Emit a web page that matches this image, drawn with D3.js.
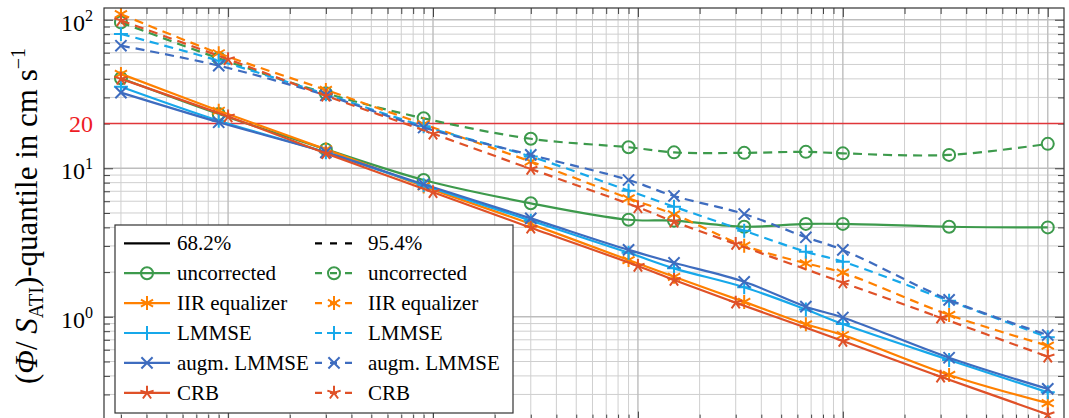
<!DOCTYPE html>
<html>
<head>
<meta charset="utf-8">
<script src="https://cdn.jsdelivr.net/npm/d3@7"></script>
<style>
  html, body { margin: 0; padding: 0; background: #fff; overflow: hidden; }
  svg { display: block; }
</style>
</head>
<body>
<svg id="chart" width="1069" height="418"></svg>
<script>
// Abscissa positions of the evaluated points (CRB is evaluated on a slightly different set)
const xMain = [3, 9, 30, 90, 300, 900, 1500, 3300, 6600, 10000, 33000, 100000];
const xCrb  = [3, 10, 30, 100, 300, 1000, 1500, 3000, 10000, 30000, 100000];

// 68.2 % quantile (solid lines)
const q68Uncorrected = [40.4, 23.2, 13.4, 8.34, 5.81, 4.5, 4.44, 4.04, 4.22, 4.22, 4.04, 4.0];
const q68Iir         = [43.2, 24.4, 13.4, 7.55, 4.22, 2.41, 1.86, 1.26, 0.89, 0.754, 0.406, 0.262];
const q68Lmmse       = [35.4, 20.9, 12.8, 7.7, 4.44, 2.7, 2.12, 1.58, 1.12, 0.894, 0.512, 0.31];
const q68Augm        = [32.3, 20.4, 12.8, 7.8, 4.6, 2.82, 2.31, 1.72, 1.17, 0.99, 0.53, 0.327];
const q68Crb         = [40.0, 22.3, 12.6, 6.9, 3.98, 2.2, 1.77, 1.245, 0.687, 0.395, 0.22];

// 95.4 % quantile (dashed lines)
const q95Uncorrected = [96, 55, 32, 21.7, 15.8, 13.85, 12.8, 12.7, 12.9, 12.6, 12.3, 14.6];
const q95Iir         = [109, 59.5, 33.7, 19.8, 11.1, 6.28, 4.9, 3.01, 2.29, 1.98, 1.03, 0.639];
const q95Lmmse       = [80.2, 53, 31.5, 19.2, 12.0, 7.07, 5.51, 3.8, 2.74, 2.35, 1.28, 0.728];
const q95Augm        = [66.9, 49.1, 31, 18.8, 12.3, 8.34, 6.51, 4.92, 3.43, 2.82, 1.30, 0.754];
const q95Crb         = [99, 54.2, 30.8, 17.1, 9.9, 5.46, 4.37, 3.09, 1.70, 0.986, 0.539];

const seriesNames  = ["uncorrected", "IIR equalizer", "LMMSE", "augm. LMMSE", "CRB"];
const seriesColors = ["#3d9a4c", "#ff8000", "#17a8ea", "#3e6cbf", "#df5128"];
const seriesMarks  = ["circle", "asterisk", "plus", "cross", "star"];
const quantileLabels = ["68.2%", "95.4%"];

const threshold = 20;
const yDecades = [0, 1, 2];

// ---------------------------------------------------------------------------
const FONT = "'Liberation Serif', 'Times New Roman', 'DejaVu Serif', serif";
const plot = { left: 104, right: 1064, top: 8, bottom: 420.6 };

const svg = d3.select("#chart").attr("font-family", FONT);

const x = d3.scaleLog().domain([2.48, 1.2e5]).range([plot.left, plot.right]);
const y = d3.scaleLog().domain([0.2, 120]).range([plot.bottom, plot.top]);

// log tick sets
function logTicks(scale) {
  const [a, b] = scale.domain();
  const major = [], minor = [];
  for (let e = Math.floor(Math.log10(a)); e <= Math.ceil(Math.log10(b)); e++) {
    for (let k = 1; k <= 9; k++) {
      const v = k * Math.pow(10, e);
      if (v < a * 0.999 || v > b * 1.001) continue;
      (k === 1 ? major : minor).push(v);
    }
  }
  return { major, minor };
}
const xt = logTicks(x), yt = logTicks(y);

// grid
const grid = svg.append("g").attr("class", "grid");
grid.selectAll("line.xmin").data(xt.minor).join("line")
  .attr("x1", d => x(d)).attr("x2", d => x(d))
  .attr("y1", plot.top).attr("y2", plot.bottom)
  .attr("stroke", "#cfcfcf").attr("stroke-width", 1);
grid.selectAll("line.ymin").data(yt.minor).join("line")
  .attr("y1", d => y(d)).attr("y2", d => y(d))
  .attr("x1", plot.left).attr("x2", plot.right)
  .attr("stroke", "#cfcfcf").attr("stroke-width", 1);
grid.selectAll("line.xmaj").data(xt.major).join("line")
  .attr("x1", d => x(d)).attr("x2", d => x(d))
  .attr("y1", plot.top).attr("y2", plot.bottom)
  .attr("stroke", "#bdbdbd").attr("stroke-width", 1.4);
grid.selectAll("line.ymaj").data(yt.major).join("line")
  .attr("y1", d => y(d)).attr("y2", d => y(d))
  .attr("x1", plot.left).attr("x2", plot.right)
  .attr("stroke", "#bdbdbd").attr("stroke-width", 1.4);

// inward ticks on all four sides
const tickColor = "#444";
function addAxis(gen, transform, values, size) {
  const g = svg.append("g").attr("transform", transform)
    .call(gen.tickValues(values).tickSize(size).tickFormat(""));
  g.select(".domain").remove();
  g.selectAll(".tick line").attr("stroke", tickColor).attr("stroke-width", 1);
}
addAxis(d3.axisLeft(y),   `translate(${plot.left},0)`,   yt.minor, -6);
addAxis(d3.axisLeft(y),   `translate(${plot.left},0)`,   yt.major, -9);
addAxis(d3.axisRight(y),  `translate(${plot.right},0)`,  yt.minor, -6);
addAxis(d3.axisRight(y),  `translate(${plot.right},0)`,  yt.major, -9);
addAxis(d3.axisTop(x),    `translate(0,${plot.top})`,    xt.minor, -6);
addAxis(d3.axisTop(x),    `translate(0,${plot.top})`,    xt.major, -9);
addAxis(d3.axisBottom(x), `translate(0,${plot.bottom})`, xt.minor, -6);
addAxis(d3.axisBottom(x), `translate(0,${plot.bottom})`, xt.major, -9);

// helper for text with the serif face set explicitly
function addText(parent) {
  return parent.append("text").attr("font-family", FONT).attr("fill", "#000");
}

// threshold line
svg.append("line")
  .attr("x1", plot.left).attr("x2", plot.right)
  .attr("y1", y(threshold)).attr("y2", y(threshold))
  .attr("stroke", "#e0363a").attr("stroke-width", 1.5);
addText(svg)
  .attr("x", plot.left - 11).attr("y", y(threshold) + 8)
  .attr("text-anchor", "end")
  .attr("font-size", 24).attr("fill", "#ee1c25")
  .text(threshold);

// y tick labels 10^k
yDecades.forEach(k => {
  const t = addText(svg)
    .attr("x", plot.left - 11).attr("y", y(Math.pow(10, k)) + 11)
    .attr("text-anchor", "end")
    .attr("font-size", 24);
  t.append("tspan").text("10");
  t.append("tspan").attr("dy", -10).attr("font-size", 16).text(k);
});

// y axis title
const title = addText(svg)
  .attr("transform", `translate(37,216) rotate(-90)`)
  .attr("text-anchor", "middle")
  .attr("font-size", 31);
title.append("tspan").text("(");
title.append("tspan").attr("font-style", "italic").text("Φ");
title.append("tspan").text("/ ");
title.append("tspan").attr("font-style", "italic").text("S");
title.append("tspan").attr("dy", 6).attr("font-size", 20).text("ATI");
title.append("tspan").attr("dy", -6).text(")-quantile in cm s");
title.append("tspan").attr("dy", -12).attr("font-size", 20).text("−1");

// markers
function markerPath(type, r) {
  const p = d3.path();
  if (type === "plus") {
    p.moveTo(-r, 0); p.lineTo(r, 0); p.moveTo(0, -r); p.lineTo(0, r);
  } else if (type === "cross") {
    const c = r * 0.8;
    p.moveTo(-c, -c); p.lineTo(c, c); p.moveTo(-c, c); p.lineTo(c, -c);
  } else if (type === "asterisk") {
    [90, 30, 150].forEach(a => {
      const t = a * Math.PI / 180;
      p.moveTo(-r * Math.cos(t), -r * Math.sin(t)); p.lineTo(r * Math.cos(t), r * Math.sin(t));
    });
  } else if (type === "star") {
    for (let i = 0; i < 5; i++) {
      const t = (-90 + 72 * i) * Math.PI / 180;
      p.moveTo(0, 0); p.lineTo(r * Math.cos(t), r * Math.sin(t));
    }
  }
  return p.toString();
}
function drawMarker(g, type, cx, cy, color) {
  if (type === "circle") {
    g.append("circle").attr("cx", cx).attr("cy", cy).attr("r", 6)
      .attr("fill", "none").attr("stroke", color).attr("stroke-width", 2);
  } else {
    g.append("path").attr("transform", `translate(${cx},${cy})`)
      .attr("d", markerPath(type, 7)).attr("fill", "none")
      .attr("stroke", color).attr("stroke-width", 2).attr("stroke-linecap", "butt");
  }
}

// data table built from the arrays above
const q68 = [q68Uncorrected, q68Iir, q68Lmmse, q68Augm, q68Crb];
const q95 = [q95Uncorrected, q95Iir, q95Lmmse, q95Augm, q95Crb];
const table = seriesNames.map((name, i) => {
  const xs = name === "CRB" ? xCrb : xMain;
  return {
    name, color: seriesColors[i], mark: seriesMarks[i],
    solid: xs.map((xv, j) => ({ x: xv, y: q68[i][j] })),
    dashed: xs.map((xv, j) => ({ x: xv, y: q95[i][j] }))
  };
});

svg.append("clipPath").attr("id", "plotClip").append("rect")
  .attr("x", plot.left).attr("y", plot.top)
  .attr("width", plot.right - plot.left).attr("height", plot.bottom - plot.top);

const line = d3.line().x(d => x(d.x)).y(d => y(d.y)).curve(d3.curveCatmullRom.alpha(0.5));
const dataG = svg.append("g").attr("clip-path", "url(#plotClip)");
const dash = "9,6";

table.forEach(s => {
  dataG.append("path").datum(s.dashed).attr("d", line)
    .attr("fill", "none").attr("stroke", s.color).attr("stroke-width", 2.2)
    .attr("stroke-dasharray", dash);
  dataG.append("path").datum(s.solid).attr("d", line)
    .attr("fill", "none").attr("stroke", s.color).attr("stroke-width", 2.2);
  s.dashed.forEach(d => drawMarker(dataG, s.mark, x(d.x), y(d.y), s.color));
  s.solid.forEach(d => drawMarker(dataG, s.mark, x(d.x), y(d.y), s.color));
});

// axis box
svg.append("rect")
  .attr("x", plot.left).attr("y", plot.top)
  .attr("width", plot.right - plot.left).attr("height", plot.bottom - plot.top)
  .attr("fill", "none").attr("stroke", "#333").attr("stroke-width", 1.2);

// legend
const leg = { x: 115, y: 225, w: 398, h: 188, row0: 243.3, dy: 29.9 };
const lg = svg.append("g");
lg.append("rect").attr("x", leg.x).attr("y", leg.y).attr("width", leg.w).attr("height", leg.h)
  .attr("fill", "#fff").attr("stroke", "#333").attr("stroke-width", 1.2);
const cols = [
  { x1: 124, x2: 170, tx: 177, dashed: false },
  { x1: 315, x2: 353, tx: 368, dashed: true }
];
cols.forEach((c, ci) => {
  // header row: line style of each quantile
  lg.append("line").attr("x1", c.x1).attr("x2", c.x2)
    .attr("y1", leg.row0).attr("y2", leg.row0)
    .attr("stroke", "#000").attr("stroke-width", 2.2)
    .attr("stroke-dasharray", c.dashed ? "7,8" : null);
  addText(lg).attr("x", c.tx).attr("y", leg.row0 + 7)
    .attr("font-size", 21)
    .text(quantileLabels[ci]);
  table.forEach((s, i) => {
    const ry = leg.row0 + leg.dy * (i + 1);
    lg.append("line").attr("x1", c.x1).attr("x2", c.x2)
      .attr("y1", ry).attr("y2", ry)
      .attr("stroke", s.color).attr("stroke-width", 2.2)
      .attr("stroke-dasharray", c.dashed ? "7,8" : null);
    drawMarker(lg, s.mark, (c.x1 + c.x2) / 2, ry, s.color);
    addText(lg).attr("x", c.tx).attr("y", ry + 7)
      .attr("font-size", 21)
      .text(s.name);
  });
});
</script>
</body>
</html>
